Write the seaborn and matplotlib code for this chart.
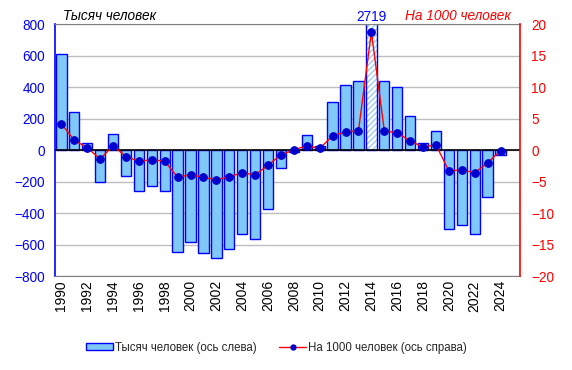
import numpy as np
import pandas as pd
import matplotlib
matplotlib.use("Agg")
import matplotlib.pyplot as plt
import seaborn as sns
from matplotlib.patches import Patch
from matplotlib.lines import Line2D

# data
years = list(range(1990, 2026))
thousands = [610, 241, 44, -203, 102, -165, -261, -229, -261, -648,
             -585, -655, -686, -629, -534, -566, -375, -114, -10, 95,
             30, 305, 413, 441, 2719, 441, 400, 216, 44, 121,
             -502, -477, -534, -299, -32, np.nan]
per_1000 = [4.2, 1.6, 0.4, -1.4, 0.7, -1.0, -1.75, -1.5, -1.75, -4.3,
            -3.9, -4.3, -4.7, -4.2, -3.6, -3.9, -2.4, -0.7, 0.05, 0.7,
            0.3, 2.3, 2.9, 3.1, 18.8, 3.1, 2.75, 1.5, 0.5, 0.85,
            -3.3, -3.1, -3.6, -2.0, -0.05, np.nan]
left_ticks = list(range(-800, 801, 200))
right_ticks = list(range(-20, 21, 5))

df = pd.DataFrame({"year": [str(y) for y in years], "thousands": thousands,
                   "per_1000": per_1000})
df["pos"] = np.arange(len(df))

sns.set_style("white")
plt.rcParams["font.family"] = ["Liberation Sans", "DejaVu Sans"]
plt.rcParams["font.size"] = 9

fig = plt.figure(figsize=(5.72, 3.7), dpi=100)
ax = fig.add_axes([0.096, 0.254, 0.813, 0.680])

bar_col = "#80C8F8"
sns.barplot(data=df, x="year", y="thousands", order=df["year"], color=bar_col,
            edgecolor="#0000FF", linewidth=1, width=0.8, saturation=1, ax=ax)

# the 2014 bar is hatched (off the scale)
i14 = years.index(2014)
p = ax.patches[i14]
p.set_facecolor("white")
p.set_hatch("//////")
p.set_edgecolor("#0000FF")
p._hatch_color = matplotlib.colors.to_rgba("#9CCCF0")

ax.set_ylim(-800, 800)
ax.set_xlim(-0.5, len(years) - 0.5)
ax.set_yticks(left_ticks)
ax.set_xticks(range(0, len(years) - 1, 2))
ax.set_xticklabels([str(y) for y in years[:-1:2]], rotation=90)
ax.grid(axis="y", color="#BEBEBE", lw=1)
ax.set_axisbelow(True)
ax.axhline(0, color="black", lw=1.2, zorder=3)
ax.set_xlabel("")
ax.set_ylabel("")
ax.tick_params(axis="y", colors="#0000FF", length=0, labelsize=9.8, pad=7)
ax.tick_params(axis="x", colors="black", length=0, labelsize=10, pad=3)
for lbl in ax.get_xticklabels():
    lbl.set_color("black")
ax.spines["left"].set_color("#0000FF")
ax.spines["left"].set_linewidth(1.2)
ax.spines["top"].set_color("#808080")
ax.spines["bottom"].set_color("#808080")
ax.spines["right"].set_visible(False)

ax2 = ax.twinx()
sns.lineplot(data=df, x="pos", y="per_1000", color="red", lw=1, marker="o",
             markersize=5.5, markerfacecolor="#0000CC", markeredgecolor="#0000CC",
             ax=ax2)
ax2.set_ylim(-20, 20)
ax2.set_yticks(right_ticks)
ax2.set_xlim(-0.5, len(years) - 0.5)
ax2.set_ylabel("")
ax2.tick_params(axis="y", colors="red", length=0, labelsize=9.8, pad=8)
for s in ["left", "top", "bottom"]:
    ax2.spines[s].set_visible(False)
ax2.spines["right"].set_visible(True)
ax2.spines["right"].set_color("red")
ax2.spines["right"].set_linewidth(1.2)

fig.text(0.110, 0.957, "Тысяч человек", style="italic", fontsize=9.8,
         color="black", ha="left", va="center")
fig.text(0.893, 0.957, "На 1000 человек", style="italic", fontsize=9.8,
         color="red", ha="right", va="center")
ax.text(i14, 805, "2719", color="#0000FF", fontsize=9.8, ha="center",
        va="bottom")

handles = [Patch(facecolor=bar_col, edgecolor="#0000FF", lw=1),
           Line2D([], [], color="red", lw=1, marker="o", markersize=3.5,
                  markerfacecolor="#0000CC", markeredgecolor="#0000CC")]
fig.legend(handles, ["Тысяч человек (ось слева)", "На 1000 человек (ось справа)"],
           loc="center", bbox_to_anchor=(0.483, 0.06), ncol=2, frameon=False,
           fontsize=8.3, handlelength=2.35, handleheight=0.55, columnspacing=2.0,
           handletextpad=0.15)

fig.savefig("out.png", dpi=100)
